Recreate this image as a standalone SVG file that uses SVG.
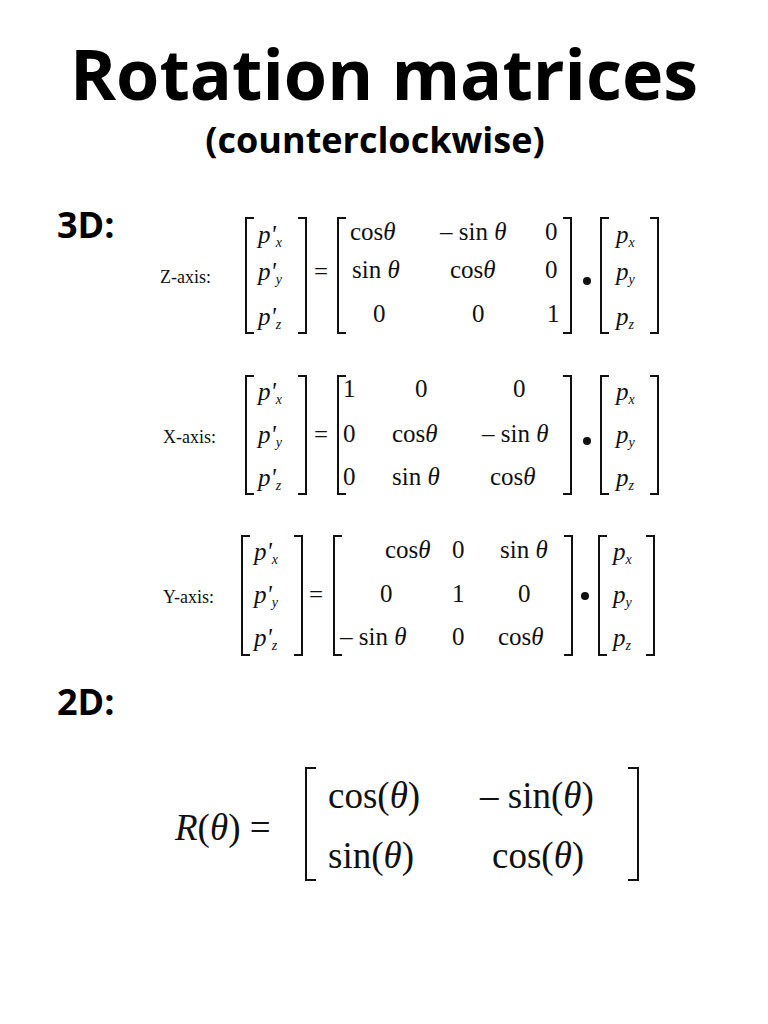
<svg xmlns="http://www.w3.org/2000/svg" width="768" height="1024" viewBox="0 0 768 1024">
<style>
.t{font-family:"Open Sans","Liberation Sans",sans-serif;font-weight:bold;fill:#000}
.m{font-family:"Liberation Serif",serif;font-size:25px;fill:#111}
.big{font-size:37px}
.i{font-style:italic}
.b{fill:none;stroke:#111;stroke-width:2}
.l{font-family:"Liberation Serif",serif;font-size:18px;fill:#111}
</style>
<rect width="768" height="1024" fill="#fff"/>
<text class="t" x="384" y="100" font-size="70" text-anchor="middle">Rotation matrices</text>
<text class="t" x="375" y="153" font-size="36" text-anchor="middle">(counterclockwise)</text>
<text class="t" x="57" y="238" font-size="36">3D:</text>
<text class="t" x="57" y="715" font-size="36">2D:</text>

<!-- Z -->
<g id="z">
<text class="l" x="160" y="283">Z-axis:</text>
<path class="b" d="M254,218 H246 V333 H254 M298,218 H306 V333 H298"/>
<text class="m i" x="258" y="243">p'<tspan font-size="14" dy="4">x</tspan></text>
<text class="m i" x="258" y="280">p'<tspan font-size="14" dy="4">y</tspan></text>
<text class="m i" x="258" y="325">p'<tspan font-size="14" dy="4">z</tspan></text>
<text class="m" x="314" y="280">=</text>
<path class="b" d="M346,218 H338 V333 H346 M563,218 H571 V333 H563"/>
<text class="m" x="350" y="240">cos<tspan class="i">θ</tspan></text>
<text class="m" x="440" y="240">– sin <tspan class="i">θ</tspan></text>
<text class="m" x="545" y="240">0</text>
<text class="m" x="352" y="278">sin <tspan class="i">θ</tspan></text>
<text class="m" x="450" y="278">cos<tspan class="i">θ</tspan></text>
<text class="m" x="545" y="278">0</text>
<text class="m" x="373" y="322">0</text>
<text class="m" x="472" y="322">0</text>
<text class="m" x="547" y="322">1</text>
<circle cx="587" cy="281" r="4" fill="#111"/>
<path class="b" d="M609,218 H601 V333 H609 M650,218 H658 V333 H650"/>
<text class="m i" x="616" y="243">p<tspan font-size="14" dy="4">x</tspan></text>
<text class="m i" x="616" y="280">p<tspan font-size="14" dy="4">y</tspan></text>
<text class="m i" x="616" y="325">p<tspan font-size="14" dy="4">z</tspan></text>
</g>

<!-- X -->
<g id="x">
<text class="l" x="163" y="443">X-axis:</text>
<path class="b" d="M254,376 H246 V494 H254 M298,376 H306 V494 H298"/>
<text class="m i" x="258" y="400">p'<tspan font-size="14" dy="4">x</tspan></text>
<text class="m i" x="258" y="443">p'<tspan font-size="14" dy="4">y</tspan></text>
<text class="m i" x="258" y="486">p'<tspan font-size="14" dy="4">z</tspan></text>
<text class="m" x="314" y="443">=</text>
<path class="b" d="M346,376 H338 V494 H346 M563,376 H571 V494 H563"/>
<text class="m" x="343" y="397">1</text>
<text class="m" x="415" y="397">0</text>
<text class="m" x="513" y="397">0</text>
<text class="m" x="343" y="442">0</text>
<text class="m" x="392" y="442">cos<tspan class="i">θ</tspan></text>
<text class="m" x="482" y="442">– sin <tspan class="i">θ</tspan></text>
<text class="m" x="343" y="485">0</text>
<text class="m" x="392" y="485">sin <tspan class="i">θ</tspan></text>
<text class="m" x="490" y="485">cos<tspan class="i">θ</tspan></text>
<circle cx="587" cy="441" r="4" fill="#111"/>
<path class="b" d="M609,376 H601 V494 H609 M650,376 H658 V494 H650"/>
<text class="m i" x="616" y="400">p<tspan font-size="14" dy="4">x</tspan></text>
<text class="m i" x="616" y="443">p<tspan font-size="14" dy="4">y</tspan></text>
<text class="m i" x="616" y="486">p<tspan font-size="14" dy="4">z</tspan></text>
</g>

<!-- Y -->
<g id="y">
<text class="l" x="163" y="603">Y-axis:</text>
<path class="b" d="M250,536 H242 V655 H250 M294,536 H302 V655 H294"/>
<text class="m i" x="254" y="560">p'<tspan font-size="14" dy="4">x</tspan></text>
<text class="m i" x="254" y="603">p'<tspan font-size="14" dy="4">y</tspan></text>
<text class="m i" x="254" y="646">p'<tspan font-size="14" dy="4">z</tspan></text>
<text class="m" x="309" y="603">=</text>
<path class="b" d="M342,536 H334 V655 H342 M564,536 H572 V655 H564"/>
<text class="m" x="385" y="558">cos<tspan class="i">θ</tspan></text>
<text class="m" x="452" y="558">0</text>
<text class="m" x="500" y="558">sin <tspan class="i">θ</tspan></text>
<text class="m" x="380" y="602">0</text>
<text class="m" x="452" y="602">1</text>
<text class="m" x="518" y="602">0</text>
<text class="m" x="340" y="645">– sin <tspan class="i">θ</tspan></text>
<text class="m" x="452" y="645">0</text>
<text class="m" x="498" y="645">cos<tspan class="i">θ</tspan></text>
<circle cx="585" cy="596" r="4" fill="#111"/>
<path class="b" d="M607,536 H599 V655 H607 M646,536 H654 V655 H646"/>
<text class="m i" x="613" y="560">p<tspan font-size="14" dy="4">x</tspan></text>
<text class="m i" x="613" y="603">p<tspan font-size="14" dy="4">y</tspan></text>
<text class="m i" x="613" y="646">p<tspan font-size="14" dy="4">z</tspan></text>
</g>

<!-- 2D -->
<g id="r2d">
<text class="m big" x="175" y="840"><tspan class="i">R</tspan>(<tspan class="i">θ</tspan>) =</text>
<path class="b" stroke-width="2.5" d="M316,768 H306 V880 H316 M628,768 H638 V880 H628"/>
<text class="m big" x="328" y="808">cos(<tspan class="i">θ</tspan>)</text>
<text class="m big" x="480" y="808">– sin(<tspan class="i">θ</tspan>)</text>
<text class="m big" x="328" y="868">sin(<tspan class="i">θ</tspan>)</text>
<text class="m big" x="492" y="868">cos(<tspan class="i">θ</tspan>)</text>
</g>
</svg>
